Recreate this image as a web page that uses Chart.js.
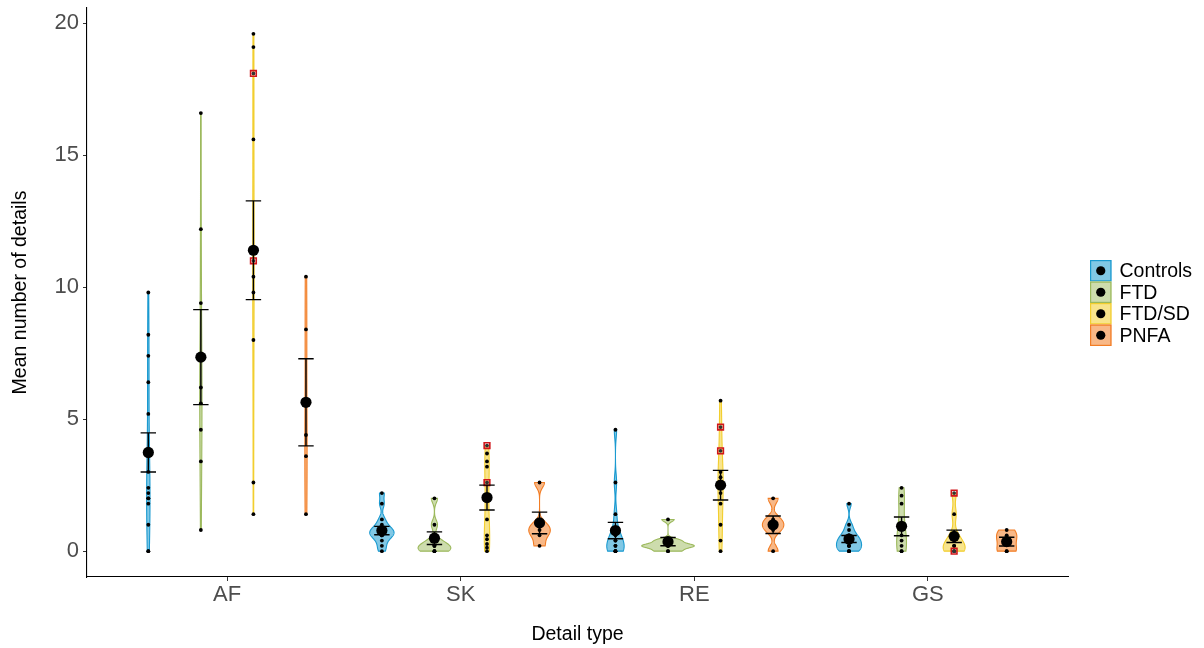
<!DOCTYPE html>
<html>
<head>
<meta charset="utf-8">
<script src="https://cdn.jsdelivr.net/npm/chart.js@4.4.1/dist/chart.umd.min.js"></script>
<style>
  html, body { margin: 0; padding: 0; background: #fff; }
  #wrap { width: 1204px; height: 648px; }
</style>
</head>
<body>
<div id="wrap"><canvas id="myChart" width="1204" height="648"></canvas></div>
<script>
'use strict';

const categories = ['AF', 'SK', 'RE', 'GS'];
const groups = ['Controls', 'FTD', 'FTD/SD', 'PNFA'];
const yTicks = [0, 5, 10, 15, 20];

// individual scores per detail type, in group order (Controls, FTD, FTD/SD, PNFA)
const scoresAF = [
  [0, 0, 1.0, 1.8, 2.0, 2.0, 2.2, 2.4, 3.0, 3.6, 5.2, 6.4, 7.4, 8.2, 9.8],
  [0.8, 3.4, 4.6, 5.6, 6.2, 7.4, 9.4, 12.2, 16.6],
  [1.4, 2.6, 8.0, 9.8, 10.4, 11.0, 11.4, 15.6, 18.1, 19.1, 19.6],
  [1.4, 3.6, 4.4, 8.4, 10.4]
];
const scoresSK = [
  [0, 0.2, 0.4, 0.6, 0.6, 0.6, 0.8, 0.8, 0.8, 1.0, 1.2, 1.8, 2.2],
  [0, 0, 0, 0.2, 0.2, 0.2, 0.4, 1.0, 2.0],
  [0, 0.13, 0.27, 0.45, 0.6, 1.2, 2.0, 2.6, 3.2, 3.4, 3.7, 4.0],
  [0.2, 0.6, 0.8, 1.0, 2.6]
];
const scoresRE = [
  [0, 0, 0, 0, 0.2, 0.2, 0.4, 0.4, 0.6, 0.8, 1.4, 2.6, 4.6],
  [0, 0, 0.2, 0.2, 0.2, 0.2, 0.4, 0.4, 1.2],
  [0, 0.4, 1.0, 1.8, 2.2, 2.6, 2.8, 3.0, 3.8, 4.7, 5.7],
  [0, 0.8, 1.0, 1.2, 2.0]
];
const scoresGS = [
  [0, 0, 0, 0.2, 0.2, 0.2, 0.4, 0.4, 0.4, 0.6, 0.6, 0.8, 1.0, 1.8],
  [0, 0, 0.2, 0.4, 0.6, 1.0, 1.8, 2.1, 2.4],
  [0, 0, 0, 0.2, 0.2, 0.4, 0.6, 1.4, 2.2],
  [0, 0, 0.4, 0.6, 0.8]
];

// FTD/SD scores marked with a red square (AF, SK, RE, GS)
const flaggedFTDSD = [[18.1, 11.0], [4.0, 2.6], [4.7, 3.8], [2.2, 0]];

// group means and standard errors per detail type
const meanAF = [3.74, 7.35, 11.4, 5.64];
const meanSK = [0.78, 0.49, 2.03, 1.07];
const meanRE = [0.78, 0.36, 2.5, 1.0];
const meanGS = [0.46, 0.94, 0.56, 0.36];
const seAF = [0.74, 1.8, 1.87, 1.65];
const seSK = [0.16, 0.24, 0.47, 0.41];
const seRE = [0.31, 0.155, 0.56, 0.33];
const seGS = [0.13, 0.355, 0.235, 0.165];

const allScores = [scoresAF, scoresSK, scoresRE, scoresGS];
const allMeans = [meanAF, meanSK, meanRE, meanGS];
const allSE = [seAF, seSK, seRE, seGS];

const lineColours = ['#1A9AD0', '#9CB95C', '#F2CE2E', '#F27D25'];
const fillColours = ['rgba(26,154,208,0.55)', 'rgba(156,185,92,0.5)', 'rgba(242,206,46,0.55)', 'rgba(242,125,37,0.55)'];
const dodge = 0.225;
const capHalf = 0.033;

const xPos = function(c, g) {
  return c + 1 + (g - 1.5) * dodge;
};

// gaussian kernel density (bw.nrd0), trimmed to the data range
const density = function(values) {
  const n = values.length;
  const sorted = values.slice().sort((a, b) => a - b);
  const mean = sorted.reduce((a, b) => a + b, 0) / n;
  const sd = Math.sqrt(sorted.reduce((a, v) => a + (v - mean) * (v - mean), 0) / (n - 1));
  const quant = function(p) {
    const h = (n - 1) * p;
    const lo = Math.floor(h);
    const hi = Math.min(lo + 1, n - 1);
    return sorted[lo] + (h - lo) * (sorted[hi] - sorted[lo]);
  };
  let spread = Math.min(sd, (quant(0.75) - quant(0.25)) / 1.34);
  if (!(spread > 0)) spread = sd > 0 ? sd : 1;
  const bw = 0.9 * spread * Math.pow(n, -0.2);
  const lo = sorted[0];
  const hi = sorted[n - 1];
  const out = [];
  for (let i = 0; i <= 200; i++) {
    const y = lo + (hi - lo) * i / 200;
    let d = 0;
    for (const v of sorted) d += Math.exp(-0.5 * Math.pow((y - v) / bw, 2));
    out.push({ y: y, d: d / (n * bw * Math.sqrt(2 * Math.PI)) });
  }
  return out;
};

const violins = [];
let maxDensity = 0;
allScores.forEach(function(cat, c) {
  cat.forEach(function(vals, g) {
    const dens = density(vals);
    for (const p of dens) maxDensity = Math.max(maxDensity, p.d);
    violins.push({ c: c, g: g, dens: dens });
  });
});

const violinPlugin = {
  id: 'violins',
  beforeDatasetsDraw(chart) {
    const { ctx, chartArea, scales } = chart;
    ctx.save();
    ctx.beginPath();
    ctx.rect(chartArea.left, chartArea.top, chartArea.width, chartArea.height);
    ctx.clip();
    for (const v of violins) {
      const cx = xPos(v.c, v.g);
      ctx.beginPath();
      v.dens.forEach(function(p, i) {
        const px = scales.x.getPixelForValue(cx + p.d / maxDensity * dodge / 2);
        const py = scales.y.getPixelForValue(p.y);
        if (i === 0) ctx.moveTo(px, py); else ctx.lineTo(px, py);
      });
      for (let i = v.dens.length - 1; i >= 0; i--) {
        const p = v.dens[i];
        ctx.lineTo(scales.x.getPixelForValue(cx - p.d / maxDensity * dodge / 2), scales.y.getPixelForValue(p.y));
      }
      ctx.closePath();
      ctx.fillStyle = fillColours[v.g];
      ctx.fill();
      ctx.lineWidth = 1.1;
      ctx.strokeStyle = lineColours[v.g];
      ctx.stroke();
    }
    ctx.restore();
  }
};

const legendPlugin = {
  id: 'sideLegend',
  afterDraw(chart) {
    const ctx = chart.ctx;
    const left = chart.chartArea.right + 22;
    const top = 260;
    const size = 21.5;
    ctx.save();
    groups.forEach(function(name, g) {
      const y = top + g * size;
      ctx.fillStyle = '#fff';
      ctx.fillRect(left, y, size, size);
      ctx.fillStyle = fillColours[g];
      ctx.fillRect(left, y, size, size);
      ctx.strokeStyle = lineColours[g];
      ctx.lineWidth = 1.2;
      ctx.strokeRect(left + 0.6, y + 0.6, size - 1.2, size - 1.2);
      ctx.fillStyle = '#000';
      ctx.beginPath();
      ctx.arc(left + size / 2, y + size / 2, 4.6, 0, Math.PI * 2);
      ctx.fill();
      ctx.font = '19.5px "Liberation Sans", Arial, sans-serif';
      ctx.textBaseline = 'middle';
      ctx.fillText(name, left + size + 8, y + size / 2 + 1);
    });
    ctx.restore();
  }
};

const dotData = [];
const meanData = [];
const errorData = [];
allScores.forEach(function(cat, c) {
  cat.forEach(function(vals, g) {
    const x = xPos(c, g);
    for (const v of vals) dotData.push({ x: x, y: v });
    const m = allMeans[c][g];
    const se = allSE[c][g];
    meanData.push({ x: x, y: m });
    errorData.push({ x: x, y: m - se }, { x: x, y: m + se }, { x: x, y: null });
    errorData.push({ x: x - capHalf, y: m - se }, { x: x + capHalf, y: m - se }, { x: x, y: null });
    errorData.push({ x: x - capHalf, y: m + se }, { x: x + capHalf, y: m + se }, { x: x, y: null });
  });
});
const flaggedData = [];
flaggedFTDSD.forEach(function(vals, c) {
  for (const v of vals) flaggedData.push({ x: xPos(c, 2), y: v });
});

const tickFont = { family: '"Liberation Sans", Arial, sans-serif', size: 22 };
const titleFont = { family: '"Liberation Sans", Arial, sans-serif', size: 19.5 };

const displayChart = function() {
  const ctx = document.getElementById('myChart');
  new Chart(ctx, {
    type: 'scatter',
    data: {
      datasets: [
        {
          label: 'means',
          data: meanData,
          pointRadius: 5.6,
          pointBackgroundColor: '#000',
          pointBorderWidth: 0,
          order: 0
        },
        {
          type: 'line',
          label: 'se',
          data: errorData,
          showLine: true,
          spanGaps: false,
          pointRadius: 0,
          borderColor: '#000',
          borderWidth: 1.4,
          fill: false,
          order: 1
        },
        {
          label: 'flagged',
          data: flaggedData,
          pointStyle: 'rect',
          pointRadius: 4,
          pointBorderColor: '#D0161B',
          pointBorderWidth: 1.6,
          pointBackgroundColor: 'rgba(255,255,255,0.2)',
          order: 2
        },
        {
          label: 'scores',
          data: dotData,
          pointRadius: 1.9,
          pointBackgroundColor: '#000',
          pointBorderWidth: 0,
          order: 3
        }
      ]
    },
    options: {
      responsive: false,
      animation: false,
      layout: { padding: { top: 8, right: 136, bottom: 0, left: 0 } },
      plugins: {
        legend: { display: false },
        tooltip: { enabled: false }
      },
      scales: {
        x: {
          type: 'linear',
          min: 0.4,
          max: 4.6,
          afterBuildTicks: function(scale) {
            scale.ticks = categories.map((name, i) => ({ value: i + 1 }));
          },
          afterFit: function(scale) {
            scale.height = 71;
            scale.paddingLeft = 0;
            scale.paddingRight = 0;
          },
          ticks: {
            font: tickFont,
            color: '#4D4D4D',
            padding: 1,
            maxRotation: 0,
            callback: function(value) {
              return categories[value - 1];
            }
          },
          grid: { display: true, drawOnChartArea: false, drawTicks: true, tickLength: 4, color: '#333' },
          border: { display: true, color: '#000', width: 1.1 },
          title: { display: true, text: 'Detail type', font: titleFont, color: '#000', padding: { top: 0, bottom: 2 } }
        },
        y: {
          min: -0.98,
          max: 20.58,
          afterBuildTicks: function(scale) {
            scale.ticks = yTicks.map(v => ({ value: v }));
          },
          afterFit: function(scale) {
            scale.width = 87;
            scale.paddingTop = 0;
            scale.paddingBottom = 0;
          },
          ticks: { font: tickFont, color: '#4D4D4D', padding: 4 },
          grid: { display: true, drawOnChartArea: false, drawTicks: true, tickLength: 4, color: '#333' },
          border: { display: true, color: '#000', width: 1.1 },
          title: { display: true, text: 'Mean number of details', font: titleFont, color: '#000', padding: { top: 9, bottom: 0 } }
        }
      }
    },
    plugins: [violinPlugin, legendPlugin]
  });
};

document.addEventListener('DOMContentLoaded', function() {
  displayChart();
});
</script>
</body>
</html>
